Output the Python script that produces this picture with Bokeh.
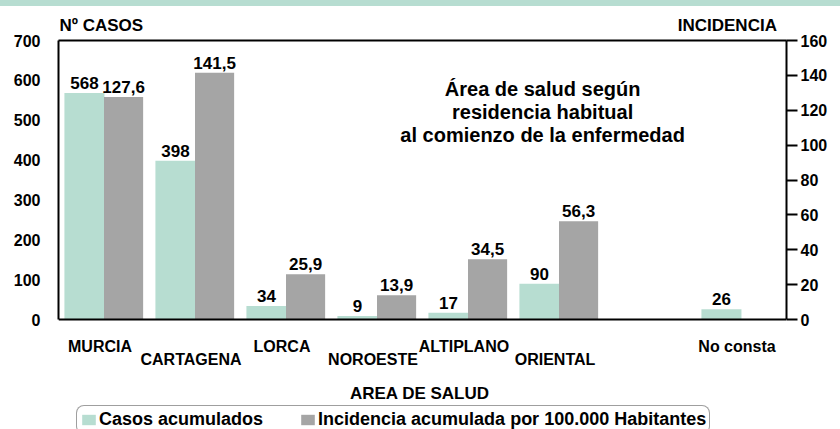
from bokeh.plotting import figure
from bokeh.layouts import column
from bokeh.models import (ColumnDataSource, Range1d, LinearAxis, FixedTicker, Span,
                          Label, LabelSet, Legend, LegendItem, Div)
from bokeh.transform import dodge
from bokeh.core.properties import value
from bokeh.embed import file_html
from bokeh.resources import INLINE

# ---------------- data ----------------
categories = ["MURCIA", "CARTAGENA", "LORCA", "NOROESTE", "ALTIPLANO", "ORIENTAL", "No consta"]
casos = [568, 398, 34, 9, 17, 90, 26]
incidencia = [127.6, 141.5, 25.9, 13.9, 34.5, 56.3, None]
casos_ticks = [0, 100, 200, 300, 400, 500, 600, 700]
incidencia_ticks = [0, 20, 40, 60, 80, 100, 120, 140, 160]
series_names = ["Casos acumulados", "Incidencia acumulada por 100.000 Habitantes"]
left_title = "Nº CASOS"
right_title = "INCIDENCIA"
x_title = "AREA DE SALUD"
note_lines = ["Área de salud según", "residencia habitual", "al comienzo de la enfermedad"]

# ---------------- style / layout ----------------
GREEN = "#b7ddd1"
GRAY = "#a5a5a5"
FONT = "Liberation Sans"
BAND_H = 6          # light green band at the top of the page
TOP = 34            # space above the value area (below the band)
VALUE_H = 279       # pixel height of the 0..700 value area
BELOW_H = 110       # pixels below the zero line (labels + legend)

c_max = casos_ticks[-1]
i_max = incidencia_ticks[-1]
c_per_px = c_max / VALUE_H
i_per_px = i_max / VALUE_H

# the original layout keeps one empty slot before "No consta"
slots = categories[:-1] + [""] + categories[-1:]
cat_pos = [slots.index(c) for c in categories]

p = figure(width=840, height=TOP + VALUE_H + BELOW_H, title=None,
           x_range=Range1d(-0.5, len(slots) - 0.5),
           y_range=Range1d(-BELOW_H * c_per_px, c_max),
           output_backend="svg", toolbar_location=None,
           min_border_left=58, min_border_right=54, min_border_top=TOP, min_border_bottom=0)
p.extra_y_ranges = {"inc": Range1d(-BELOW_H * i_per_px, i_max)}
p.background_fill_color = "white"
p.border_fill_color = "white"
p.grid.visible = False
p.outline_line_color = None
p.xaxis.visible = False

yl = p.left[0]

TXT = dict(major_label_text_font=FONT, major_label_text_font_style="bold",
           major_label_text_color="black")


def bare(ax, size):
    ax.axis_line_color = None
    ax.major_tick_line_color = None
    ax.major_tick_out = 0
    ax.major_tick_in = 0
    ax.minor_tick_line_color = None
    ax.major_label_text_font_size = size
    for k, v in TXT.items():
        setattr(ax, k, v)


# left axis (its line is the left side of the box)
yl.ticker = FixedTicker(ticks=casos_ticks)
bare(yl, "16px")
yl.bounds = (casos_ticks[0], casos_ticks[-1])
yl.axis_line_color = "black"
yl.axis_line_width = 2
yl.major_label_standoff = 18

# right axis
yr = LinearAxis(y_range_name="inc", ticker=FixedTicker(ticks=incidencia_ticks),
                bounds=(incidencia_ticks[0], incidencia_ticks[-1]))
bare(yr, "16px")
yr.axis_line_color = "black"
yr.axis_line_width = 2
yr.major_tick_line_color = "black"
yr.major_tick_line_width = 2
yr.major_tick_out = 11
yr.major_label_standoff = 3
p.add_layout(yr, "right")

# top side of the box + axis titles as its tick labels
title_pos = [-0.03, 6.85]
xt = LinearAxis(ticker=FixedTicker(ticks=title_pos))
xt.major_label_overrides = {title_pos[0]: left_title, title_pos[1]: right_title}
bare(xt, "17px")
xt.axis_line_color = "black"
xt.axis_line_width = 2
xt.major_label_standoff = 6
p.add_layout(xt, "above")

# bottom side of the box (zero line)
p.add_layout(Span(location=0, dimension="width", line_color="black", line_width=2))

# ---------------- bars ----------------
src_c = ColumnDataSource(dict(pos=cat_pos, casos=casos, txt=[str(v) for v in casos]))
inc_pos = [pp for pp, v in zip(cat_pos, incidencia) if v is not None]
inc_vals = [v for v in incidencia if v is not None]
src_i = ColumnDataSource(dict(pos=inc_pos, inc=inc_vals,
                              txt=[f"{v:.1f}".replace(".", ",") for v in inc_vals]))

r1 = p.vbar(x=dodge("pos", -0.215), top="casos", width=0.44,
            source=src_c, fill_color=GREEN, line_color=None)
r2 = p.vbar(x=dodge("pos", 0.215), top="inc", width=0.43,
            source=src_i, fill_color=GRAY, line_color=None, y_range_name="inc")

common_txt = dict(text_font=value(FONT), text_font_size="17px", text_font_style="bold",
                  text_color="black", text_align="center", text_baseline="alphabetic")
p.text(x=dodge("pos", -0.215), y="casos", text="txt", source=src_c,
       y_offset=-10, **common_txt)
p.text(x=dodge("pos", 0.215), y="inc", text="txt", source=src_i,
       y_offset=-10, y_range_name="inc", **common_txt)

# ---------------- category labels (staggered) and axis title ----------------
row_px = [32, 45]
src_l = ColumnDataSource(dict(
    x=cat_pos,
    y=[-row_px[i % 2] * c_per_px for i in range(len(categories))],
    text=categories))
p.add_layout(LabelSet(x="x", y="y", text="text", source=src_l, x_offset=-4,
                      text_font=value(FONT), text_font_size=value("16px"),
                      text_font_style=value("bold"), text_color=value("black"),
                      text_align=value("center"), text_baseline=value("alphabetic")))
p.add_layout(Label(x=(len(slots) - 1) / 2 - 0.03, y=-73.5 * c_per_px, text=x_title,
                   text_align="center", text_baseline="alphabetic", text_font=FONT,
                   text_font_size="17px", text_font_style="bold", text_color="black"))

# ---------------- note inside the plot ----------------
for i, line in enumerate(note_lines):
    p.add_layout(Label(x=4.82, y=c_max - (48 + 23 * i) * c_per_px, text=line,
                       text_align="center", text_baseline="alphabetic", text_font=FONT,
                       text_font_size="20px", text_font_style="bold", text_color="black"))

# ---------------- legend ----------------
legend = Legend(items=[LegendItem(label=series_names[0], renderers=[r1]),
                       LegendItem(label=series_names[1], renderers=[r2])],
                orientation="horizontal", location=(18, -5), margin=0,
                glyph_width=17, glyph_height=13, label_standoff=2, spacing=36, padding=3,
                label_height=14, label_text_font=FONT, label_text_font_size="18px",
                label_text_font_style="bold", label_text_color="black",
                border_line_color="#404040", border_line_width=1.5,
                background_fill_color="white", background_fill_alpha=1)
if "border_radius" in Legend.properties():
    legend.border_radius = 8
p.add_layout(legend, "center")

band = Div(text="", width=840, height=BAND_H, margin=0,
           styles={"background-color": GREEN})
page = column(band, p, spacing=0)

open("out.html", "w").write(file_html(page, INLINE))
